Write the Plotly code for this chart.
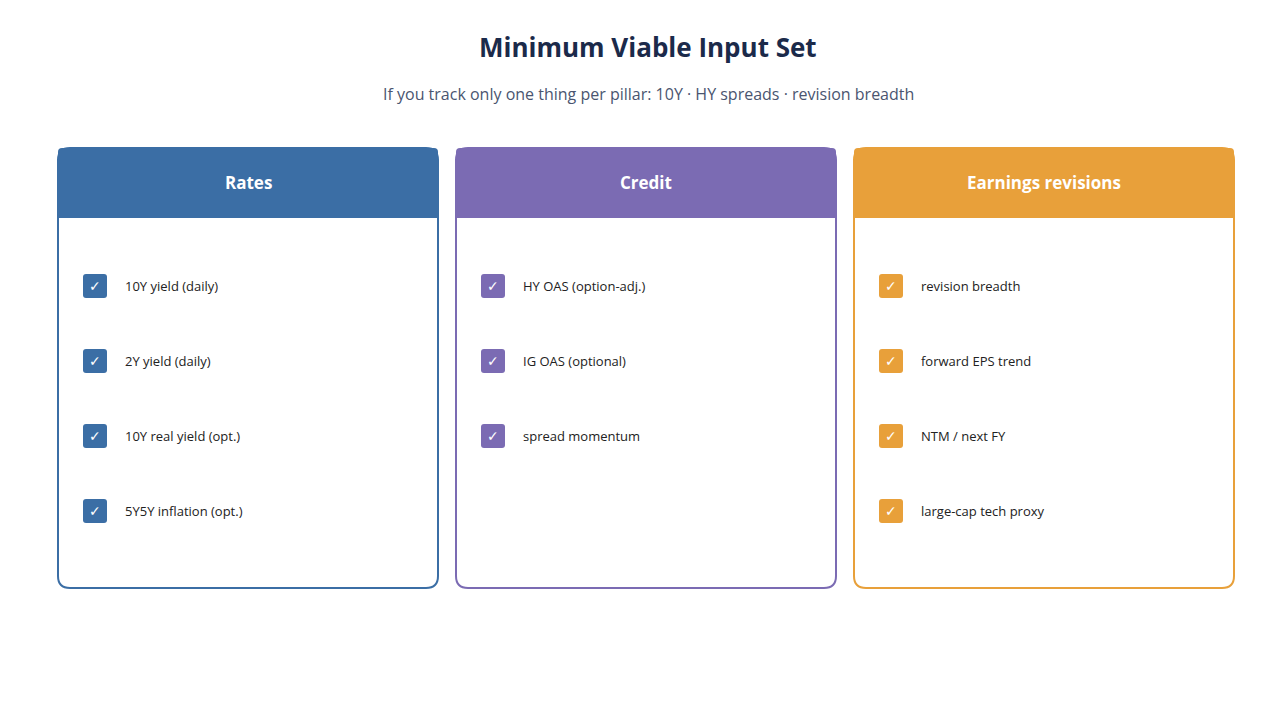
import plotly.graph_objects as go

title = "Minimum Viable Input Set"
subtitle = "If you track only one thing per pillar: 10Y · HY spreads · revision breadth"
pillars = ["Rates", "Credit", "Earnings revisions"]
colors = ["#3b6ea5", "#7b6bb3", "#e8a03a"]
items = [
    ["10Y yield (daily)", "2Y yield (daily)", "10Y real yield (opt.)", "5Y5Y inflation (opt.)"],
    ["HY OAS (option-adj.)", "IG OAS (optional)", "spread momentum"],
    ["revision breadth", "forward EPS trend", "NTM / next FY", "large-cap tech proxy"],
]

W, H = 1280, 720
card_x0, card_w, gap = 50, 380, 18
card_y0, card_y1, head_h = 140, 580, 70
row_y0, row_dy = 278, 75

def rrect(x0, y0, x1, y1, r, top=True, bottom=True):
    rt = r if top else 0
    rb = r if bottom else 0
    return (f"M{x0+rt},{y0} L{x1-rt},{y0} Q{x1},{y0} {x1},{y0+rt} "
            f"L{x1},{y1-rb} Q{x1},{y1} {x1-rb},{y1} L{x0+rb},{y1} Q{x0},{y1} {x0},{y1-rb} "
            f"L{x0},{y0+rt} Q{x0},{y0} {x0+rt},{y0} Z")

shapes, ann = [], []
for i, (p, c, its) in enumerate(zip(pillars, colors, items)):
    x0 = card_x0 + i * (card_w + gap)
    x1 = x0 + card_w
    shapes.append(dict(type="path", path=rrect(x0, card_y0, x1, card_y1, 12),
                       fillcolor="white", line=dict(color=c, width=2), layer="below"))
    shapes.append(dict(type="path", path=rrect(x0, card_y0, x1, card_y0 + head_h, 4, bottom=False),
                       fillcolor=c, line=dict(width=0), layer="above"))
    ann.append(dict(x=(x0 + x1) / 2, y=card_y0 + head_h / 2 - 1, text=f"<b>{p}</b>", showarrow=False,
                    font=dict(size=17, color="white", family="Open Sans"), xanchor="center"))
    for j, t in enumerate(its):
        y = row_y0 + j * row_dy
        bx = x0 + 25
        shapes.append(dict(type="path", path=rrect(bx, y - 12, bx + 24, y + 12, 3),
                           fillcolor=c, line=dict(width=0)))
        ann.append(dict(x=bx + 12, y=y, text="✓", showarrow=False,
                        font=dict(size=14, color="white", family="DejaVu Sans")))
        ann.append(dict(x=x0 + 65, y=y, text=t, showarrow=False, xanchor="left",
                        font=dict(size=13, color="#222222", family="Open Sans")))

ann.append(dict(x=W / 2, y=39, text=f"<b>{title}</b>", showarrow=False,
                font=dict(size=26, color="#1b2a4a", family="Open Sans")))
ann.append(dict(x=W / 2, y=86, text=subtitle, showarrow=False,
                font=dict(size=16, color="#4a5570", family="Open Sans")))

fig = go.Figure()
fig.update_layout(width=W, height=H, margin=dict(l=0, r=0, t=0, b=0),
                  paper_bgcolor="white", plot_bgcolor="white",
                  xaxis=dict(range=[0, W], visible=False, fixedrange=True),
                  yaxis=dict(range=[H, 0], visible=False, fixedrange=True),
                  shapes=shapes, annotations=ann, showlegend=False)
fig.write_html("out.html", config={"displayModeBar": False})
